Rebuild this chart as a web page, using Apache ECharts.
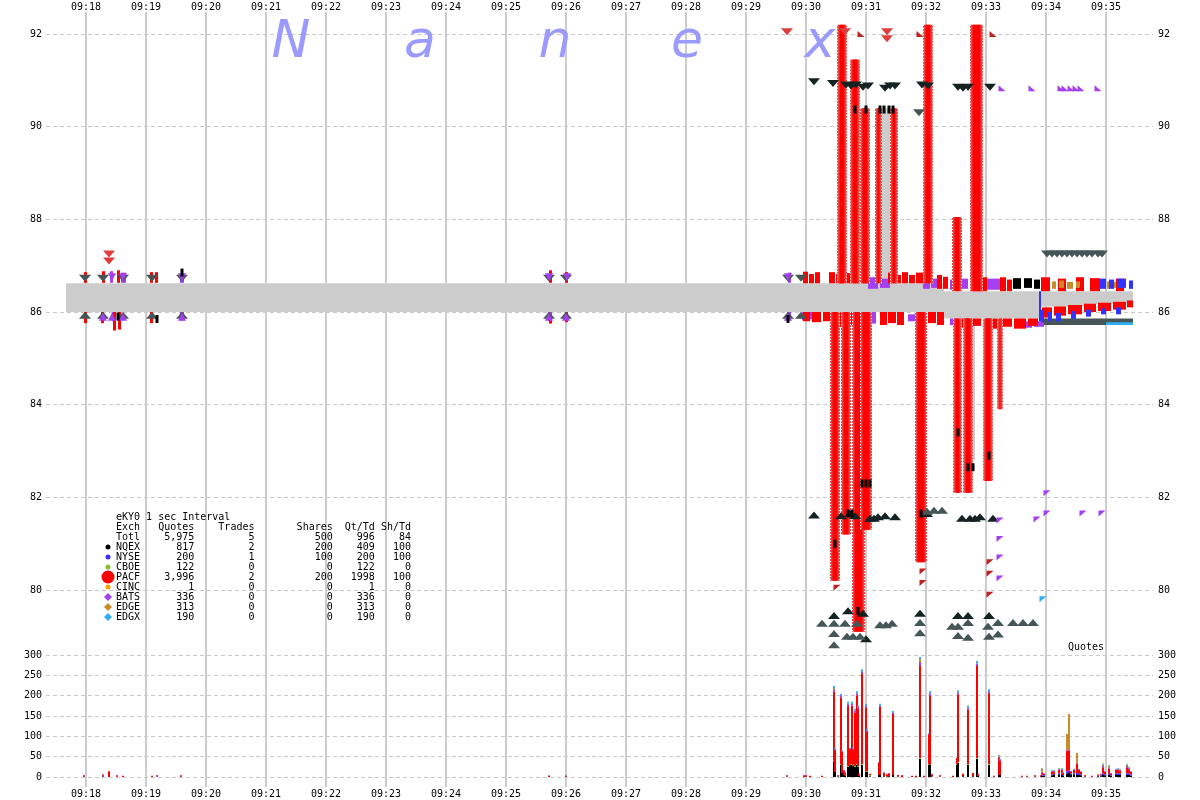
<!DOCTYPE html>
<html><head><meta charset="utf-8">
<script src="https://cdn.jsdelivr.net/npm/echarts@6/dist/echarts.min.js"></script>
<style>html,body{margin:0;padding:0;background:#fff}#c{width:1200px;height:800px}</style>
</head><body><div id="c"></div>
<script>
// time unit: seconds after 09:18:00
const xMin = -40, xMax = 1067;
const minuteTicks = [0,60,120,180,240,300,360,420,480,540,600,660,720,780,840,900,960,1020];
const minuteLabels = ['09:18','09:19','09:20','09:21','09:22','09:23','09:24','09:25','09:26','09:27','09:28','09:29','09:30','09:31','09:32','09:33','09:34','09:35'];
const priceMin = 80, priceMax = 92, priceStep = 2;
const volMin = 0, volMax = 300, volStep = 50;

// NBBO gray band [t0, t1, bid, ask]
const nbboBand = [[-20,858,86.0,86.62],[858,954,85.86,86.45],[954,1000,86.12,86.45],[1000,1047,86.18,86.45]];
const nbboSpikes = [[749,754,80.5,86.0],[756,759,86.62,90.6],[767,772,81.6,86.0],[771,774,86.62,88.0],[792,806,86.62,90.4],[882,889,82.8,85.86],[901,906,82.4,85.86]];

// PACF quote columns [t0, t1, lo, hi]
const pacfColumns = [
  [744,754,80.2,86.0],[755,765,81.2,86.0],[766,779,79.1,86.0],[774,786,81.3,86.0],[829,841,80.6,86.0],
  [867,876,82.1,85.86],[877,887,82.1,85.86],[897,907,82.35,85.86],[911,917,83.9,85.86],
  [751,761,86.62,92.2],[764,774,86.62,91.45],[774,784,86.62,90.4],[789,796,86.62,90.4],[804,812,86.62,90.4],
  [837,847,86.62,92.2],[866,876,86.45,88.05],[884,897,86.45,92.2]
];

// quote strips near the band edges [t0, t1, lo, hi]
const pacfStrips = [
  [-2,1,86.63,86.86],[-2,1,85.76,86.0],[16,19,86.63,86.88],[15,18,85.76,86.0],[31,34,86.63,86.9],[27,30,85.6,86.0],[32,35,85.62,86.0],
  [64,67,86.63,86.86],[69,72,86.63,86.86],[64,67,85.76,86.0],[463,466,86.63,86.9],[463,466,85.75,85.88],[479,482,86.63,86.86],[479,482,85.78,86.0],
  [717,722,86.62,86.87],[723,728,86.62,86.82],[729,734,86.62,86.86],[743,749,86.62,86.86],[750,757,86.62,86.82],
  [759,766,86.62,86.84],[767,774,86.62,86.8],[775,782,86.62,86.85],[802,808,86.62,86.85],[809,815,86.62,86.8],[816,822,86.62,86.86],
  [823,829,86.62,86.8],[830,837,86.62,86.85],[851,856,86.5,86.8],[857,862,86.5,86.76],
  [894,901,86.45,86.75],[914,920,86.45,86.75],[921,926,86.45,86.7],[955,964,86.45,86.75],[972,980,86.45,86.72],[990,998,86.45,86.75],[1004,1014,86.45,86.73],[1030,1038,86.45,86.72],
  [717,724,85.8,86.0],[726,735,85.78,86.0],[737,744,85.8,86.0],[752,760,85.68,86.0],[761,770,85.72,86.0],[771,778,85.68,86.0],[779,785,85.75,86.0],
  [794,801,85.72,86.0],[802,810,85.76,86.0],[811,818,85.72,86.0],[834,841,85.72,86.0],[842,850,85.76,86.0],[851,858,85.72,86.0],
  [874,884,85.66,85.86],[885,895,85.7,85.86],[900,912,85.64,85.86],[914,926,85.68,85.86],[928,940,85.64,85.86],[942,952,85.7,85.86],
  [956,966,85.88,86.1],[968,980,85.92,86.12],[982,996,85.95,86.15],[998,1010,86.0,86.18],[1012,1025,86.02,86.2],[1027,1040,86.05,86.22],[1041,1047,86.1,86.25]
];
const batsStrips = [
  [24,27,86.63,86.88],[26,30,85.8,86.0],[35,40,86.63,86.85],[94,98,86.63,86.82],[94,98,85.82,86.0],[462,466,85.8,86.0],[702,705,86.63,86.85],[701,705,85.82,86.0],
  [782,792,86.5,86.75],[794,804,86.52,86.72],[837,844,86.5,86.75],[845,851,86.52,86.72],[864,872,86.48,86.7],[874,882,86.5,86.72],[885,894,86.48,86.7],[901,914,86.48,86.72],
  [716,721,85.82,86.0],[724,730,85.84,86.0],[782,790,85.75,86.0],[822,834,85.8,85.95],[864,872,85.72,85.86],[875,881,85.74,85.86],[935,946,85.66,85.8],[948,958,85.68,85.8]
];
const nqexStrips = [[927,935,86.5,86.73],[938,946,86.52,86.73],[948,954,86.5,86.7]];
const edgeStrips = [[966,970,86.5,86.66],[973,978,86.52,86.68],[981,987,86.5,86.65],[990,994,86.52,86.66],[1021,1024,86.5,86.66],[1027,1030,86.52,86.65]];
const nyseStrips = [[1014,1020,86.5,86.72],[1023,1028,86.5,86.7],[1032,1040,86.52,86.72],[1043,1047,86.5,86.68],
  [955,958,85.78,86.05],[962,966,85.8,86.0],[970,975,85.8,85.98],[985,990,85.85,86.02],[1000,1005,85.9,86.05],[1015,1020,85.95,86.08],[1030,1035,85.95,86.1],[953,955,85.8,86.45]];
const darkStrips = [[956,1047,85.72,85.86]];
const edgxStrips = [[1020,1047,85.72,85.78]];

// triangles [t, price]
const darkAsk = [[728,90.97],[747,90.93],[760,90.9],[765,90.88],[770,90.9],[777,90.85],[782,90.88],[799,90.83],[804,90.88],[809,90.88],[836,90.9],[842,90.88],[872,90.85],[877,90.83],[882,90.85],[904,90.85]];
const grayAsk = [[833,90.3],[961,87.25],[966,87.25],[971,87.25],[976,87.25],[981,87.25],[986,87.25],[991,87.25],[996,87.25],[1001,87.25],[1006,87.25],[1012,87.25],[1016,87.25],
  [-1,86.73],[17,86.73],[37,86.73],[66,86.73],[96,86.73],[463,86.73],[480,86.73],[702,86.73],[715,86.73]];
const darkBid = [[728,81.62],[755,81.6],[764,81.65],[769,81.6],[784,81.55],[788,81.55],[792,81.58],[799,81.6],[809,81.58],[841,81.65],[876,81.55],[884,81.55],[889,81.55],[894,81.58],[907,81.55],
  [748,79.45],[762,79.55],[777,79.5],[834,79.5],[872,79.45],[882,79.45],[903,79.45],[780,78.95]];
const grayBid = [[736,79.28],[748,79.28],[759,79.28],[771,79.28],[794,79.25],[800,79.25],[806,79.28],[834,79.3],[866,79.22],[872,79.22],[882,79.3],[902,79.22],[912,79.3],[927,79.3],[937,79.3],[947,79.3],
  [748,79.06],[761,79.0],[767,79.0],[774,79.0],[834,79.08],[872,79.02],[882,78.98],[903,79.0],[912,79.05],[748,78.82],
  [841,81.7],[848,81.72],[856,81.72],
  [-1,85.93],[17,85.93],[37,85.93],[66,85.93],[96,85.93],[463,85.93],[480,85.93],[702,85.93],[715,85.93]];
const redAsk = [[701,92.05],[759,92.05],[801,92.05],[801,91.9],[23,87.25],[23,87.1]];
const darkRedTop = [[775,92.0],[834,92.0],[907,92.0]];
const darkRedLow = [[751,80.05],[837,80.4],[837,80.15],[904,80.6],[904,80.35],[904,79.9]];
const purpleTop = [[916,90.83],[946,90.83],[975,90.83],[979,90.83],[985,90.83],[990,90.83],[995,90.83],[1012,90.83]];
const purpleLow = [[914,81.5],[951,81.52],[961,81.65],[961,82.09],[997,81.65],[1016,81.65],[914,81.1],[914,80.7],[914,80.25]];
const cyanLow = [[957,79.8]];
const purpleAsk = [[26,86.75],[37,86.75],[96,86.75],[463,86.75],[481,86.75],[702,86.75]];
const purpleBid = [[17,85.9],[26,85.9],[37,85.9],[96,85.9],[463,85.9],[480,85.9],[702,85.9]];
const nqexMarks = [[769,90.37],[780,90.37],[794,90.37],[798,90.37],[803,90.37],[807,90.37],
  [749,81.0],[762,81.65],[766,81.65],[776,82.3],[780,82.3],[784,82.3],[835,81.65],[872,83.4],[882,82.65],[887,82.65],[903,82.9],[772,79.55],
  [32,85.9],[71,85.85],[96,86.85],[702,85.85]];

// quotes per second, stacked by exchange
const volT =    [-2,17,23,31,37,66,71,95,463,480,701,718,720,724,736,748,749,752,755,756,758,759,762,764,766,767,769,771,772,773,776,780,781,784,793,794,798,801,803,807,812,816,826,830,834,838,843,844,846,854,867,871,872,877,882,887,891,892,903,908,913,914,936,941,949,955,956,958,966,968,973,976,977,981,983,985,988,991,993,995,999,1006,1012,1015,1017,1019,1023,1025,1030,1032,1034,1041,1043,1045];
const volNQEX = [1,1,0,1,0,1,0,1,0,1,1,0,1,0,0,38,12,1,30,10,5,3,25,30,30,28,25,30,25,3,30,12,12,2,5,5,2,1,2,5,1,0,0,0,45,0,30,30,1,1,0,30,35,2,30,2,45,3,30,1,5,5,1,1,1,1,3,3,4,5,5,5,3,8,10,5,5,5,5,4,1,1,2,2,5,4,5,3,5,5,5,5,5,3];
const volNYSE = [0,2,0,0,0,0,2,0,0,0,0,0,0,0,0,0,0,0,0,0,0,0,0,0,0,0,0,0,0,0,0,0,0,0,0,0,0,0,0,0,0,0,0,0,0,0,0,0,0,0,0,0,0,0,0,0,0,0,0,0,0,0,0,0,0,0,3,2,3,3,4,4,2,6,6,3,4,5,4,3,1,0,1,2,4,3,4,2,4,4,3,4,4,3];
const volCBOE = [0,0,0,0,0,0,0,0,0,0,0,0,0,0,0,2,0,0,2,0,0,0,2,1,2,2,2,2,2,0,2,2,2,3,0,0,0,0,0,0,0,0,0,0,2,0,2,0,0,0,0,2,2,0,2,0,2,0,2,0,0,0,0,0,0,0,0,0,0,0,0,0,0,0,0,0,0,0,0,0,0,0,0,0,0,0,0,0,0,0,0,0,0,0];
const volPACF = [3,2,14,3,3,2,2,3,3,2,3,4,3,3,3,170,55,3,164,52,10,8,148,38,143,38,131,169,140,5,223,156,98,3,30,167,8,6,7,150,4,4,3,3,228,3,73,170,6,3,3,15,166,6,134,8,226,5,174,2,42,35,2,2,3,3,5,3,6,6,8,8,5,50,50,6,8,23,8,6,2,2,3,3,15,6,12,4,8,8,8,15,10,6];
const volBATS = [1,2,1,1,0,0,1,0,1,1,1,1,1,0,0,6,2,0,5,2,2,1,5,2,5,2,5,5,5,0,5,5,3,0,2,4,1,1,1,4,0,0,0,0,8,0,2,6,1,0,0,0,5,0,5,0,6,0,5,0,2,2,0,0,0,0,2,1,2,2,2,2,1,2,2,1,2,2,2,1,0,0,0,1,3,2,2,1,2,2,2,3,3,2];
const volEDGE = [0,0,0,0,0,0,0,0,0,0,0,0,0,0,0,3,0,0,0,0,0,0,0,0,0,0,0,0,0,0,0,0,0,0,0,0,0,0,0,0,0,0,0,0,7,0,0,0,0,0,0,0,0,0,0,0,0,0,0,0,4,0,0,0,0,0,8,0,1,0,2,2,0,40,87,0,1,24,0,1,0,0,0,0,4,0,4,0,0,2,1,3,2,0];
const volEDGX = [0,0,0,0,0,0,0,0,0,0,0,0,0,0,0,5,2,0,3,2,0,0,5,1,5,2,5,5,4,0,5,5,3,0,0,4,1,0,0,3,0,0,0,0,5,0,1,5,0,0,0,0,5,0,5,0,6,0,5,0,2,3,0,0,0,0,1,1,1,1,1,1,1,0,0,0,0,0,1,0,0,0,0,0,2,0,2,0,1,1,1,2,1,1];

// summary table
const tableExch   = ['Totl','NQEX','NYSE','CBOE','PACF','CINC','BATS','EDGE','EDGX'];
const tableQuotes = ['5,975','817','200','122','3,996','1','336','313','190'];
const tableTrades = [5,2,1,0,2,0,0,0,0];
const tableShares = [500,200,100,0,200,0,0,0,0];
const tableQtTd   = [996,409,200,122,1998,1,336,313,190];
const tableShTd   = [84,100,100,0,100,0,0,0,0];

const C = {NQEX:'#000000',NYSE:'#3333ff',CBOE:'#88c030',PACF:'#ff0000',CINC:'#ffa000',BATS:'#a540f0',EDGE:'#c88c28',EDGX:'#30aff0',dark:'#142222',gray:'#465656',band:'#cccccc',red:'#e03c3c',darkRed:'#c02222'};
const MONO = 'DejaVu Sans Mono';
const volColors = [C.NQEX, C.NYSE, C.CBOE, C.PACF, C.BATS, C.EDGE, C.EDGX];

function rectSeries(name, data, color){
  return {type:'custom', name, data, xAxisIndex:0, yAxisIndex:0, clip:false, silent:true,
    renderItem(params, api){
      const p0 = api.coord([api.value(0), api.value(3)]);
      const p1 = api.coord([api.value(1), api.value(2)]);
      return {type:'rect', shape:{x:p0[0], y:p0[1], width:Math.max(1,p1[0]-p0[0]), height:Math.max(1,p1[1]-p0[1])}, style:{fill:color}};
    }};
}
function columnSeries(data){
  return {type:'custom', name:'PACF', data, clip:false, silent:true,
    renderItem(params, api){
      const p0 = api.coord([api.value(0), api.value(3)]);
      const p1 = api.coord([api.value(1), api.value(2)]);
      const w = Math.max(1,p1[0]-p0[0]), h = p1[1]-p0[1];
      const x0 = Math.round(p0[0]) + 0.5, x1 = Math.round(p0[0] + w) - 0.5;
      return {type:'group', children:[
        {type:'rect', shape:{x:p0[0], y:p0[1], width:w, height:h}, style:{fill:'#e84545'}},
        {type:'rect', shape:{x:p0[0]+2.5, y:p0[1], width:Math.max(1,w-5), height:h}, style:{fill:'#ff0000'}},
        {type:'line', shape:{x1:x0, y1:p0[1], x2:x0, y2:p0[1]+h}, style:{stroke:'#ffffff', lineWidth:1, lineDash:[1,2]}},
        {type:'line', shape:{x1:x1, y1:p0[1], x2:x1, y2:p0[1]+h}, style:{stroke:'#ffffff', lineWidth:1, lineDash:[1,2]}}
      ]};
    }};
}
function triSeries(name, data, color, symbol, size, rotate){
  return {type:'scatter', name, data, symbol, symbolSize:size, symbolRotate:rotate||0, clip:false, silent:true,
    itemStyle:{color, opacity:1}, xAxisIndex:0, yAxisIndex:0};
}
const TRI = 'triangle';
const CORNER_BL = 'path://M0,0L0,10L10,10Z';
const CORNER_TL = 'path://M0,0L10,0L0,10Z';

const tickLabel = v => { const i = minuteTicks.indexOf(v); return i >= 0 ? minuteLabels[i] : ''; };
const axisFont = {fontFamily:MONO, fontSize:10, color:'#000'};
const dashed = {show:true, lineStyle:{color:'#c8c8c8', type:[4,3], width:1}};

function hiddenX(gi){ return {type:'value', gridIndex:gi, min:xMin, max:xMax, show:false, splitLine:{show:false}}; }
function frameX(pos, split, margin){
  return {type:'value', gridIndex:2, min:xMin, max:xMax, position:pos,
    axisLine:{show:false}, axisTick:{show:false, customValues:minuteTicks},
    axisLabel:Object.assign({customValues:minuteTicks, formatter:tickLabel, margin}, axisFont),
    splitLine:{show:split, lineStyle:{color:'#cccccc', width:2}}};
}
function yAx(gi, min, max, step, pos, split){
  return {type:'value', gridIndex:gi, min, max, interval:step, position:pos,
    axisLine:{show:false}, axisTick:{show:false},
    axisLabel:Object.assign({margin: pos==='left'?4:5}, axisFont),
    splitLine: split ? dashed : {show:false}};
}

const volRows = volT.map((t,i)=>[t, volNQEX[i], volNYSE[i], volCBOE[i], volPACF[i], volBATS[i], volEDGE[i], volEDGX[i]]);
const volSeries = {type:'custom', name:'Quotes', data:volRows, xAxisIndex:1, yAxisIndex:2, silent:true,
  encode:{x:0, y:4},
  renderItem(params, api){
    const t = api.value(0); let acc = 0; const children = [];
    for (let k = 0; k < 7; k++){
      const v = api.value(k+1); if (!v) continue;
      const top = api.coord([t, acc+v]); const bot = api.coord([t, acc]);
      children.push({type:'rect', shape:{x:top[0]-1, y:top[1], width:2, height:bot[1]-top[1]}, style:{fill:volColors[k]}});
      acc += v;
    }
    return {type:'group', children};
  }};

function padL(s,n){s=String(s);while(s.length<n)s=' '+s;return s;}
function padR(s,n){s=String(s);while(s.length<n)s+=' ';return s;}
const tableLines = ['eKY0 1 sec Interval',
  padR('Exch',4)+padL('Quotes',9)+padL('Trades',10)+padL('Shares',13)+padL('Qt/Td',7)+padL('Sh/Td',6)];
tableExch.forEach((e,i)=>tableLines.push(padR(e,4)+padL(tableQuotes[i],9)+padL(tableTrades[i],10)+padL(tableShares[i],13)+padL(tableQtTd[i],7)+padL(tableShTd[i],6)));

const graphics = [];
tableLines.forEach((ln,i)=>graphics.push({type:'text', x:116, y:517+10*i, z:50, silent:true,
  style:{text:ln, font:'10px "DejaVu Sans Mono"', fill:'#000', align:'left', verticalAlign:'middle'}}));
const bulletKinds = [['NQEX','c',2.5],['NYSE','c',2.5],['CBOE','c',2.5],['PACF','c',6.5],['CINC','c',2.5],['BATS','d',4],['EDGE','d',4],['EDGX','d',4]];
bulletKinds.forEach(([n,k,r],i)=>{
  const cy = 547+10*i, cx = 108;
  if (k==='c') graphics.push({type:'circle', z:50, silent:true, shape:{cx, cy, r}, style:{fill:C[n]}});
  else graphics.push({type:'polygon', z:50, silent:true, shape:{points:[[cx,cy-r],[cx+r,cy],[cx,cy+r],[cx-r,cy]]}, style:{fill:C[n]}});
});
[['N',291],['a',420],['n',555],['e',687],['x',820]].forEach(([ch,x])=>graphics.push({type:'text', x, y:43, z:1, silent:true,
  style:{text:ch, font:'italic 52px "DejaVu Sans"', fill:'#9a9aff', align:'center', verticalAlign:'middle'}}));
graphics.push({type:'text', x:1068, y:647, z:50, silent:true, style:{text:'Quotes', font:'10px "DejaVu Sans Mono"', fill:'#000', align:'left', verticalAlign:'middle'}});

const chart = echarts.init(document.getElementById('c'), null, {renderer:'canvas'});
chart.setOption({
  animation:false,
  backgroundColor:'#ffffff',
  grid:[
    {left:46, right:47, top:34, height:556},
    {left:46, right:47, top:655, height:122},
    {left:46, right:47, top:12, height:775}
  ],
  xAxis:[hiddenX(0), hiddenX(1), frameX('top', true, 0), frameX('bottom', false, 2)],
  yAxis:[
    yAx(0, priceMin, priceMax, priceStep, 'left', true),
    yAx(0, priceMin, priceMax, priceStep, 'right', false),
    yAx(1, volMin, volMax, volStep, 'left', true),
    yAx(1, volMin, volMax, volStep, 'right', false),
    {type:'value', gridIndex:2, min:0, max:1, show:false, splitLine:{show:false}}
  ],
  graphic: graphics,
  series:[
    rectSeries('NBBO', nbboBand, C.band),
    rectSeries('NBBO spikes', nbboSpikes, C.band),
    rectSeries('dark bids', darkStrips, C.gray),
    rectSeries('EDGX', edgxStrips, C.EDGX),
    rectSeries('BATS', batsStrips, C.BATS),
    rectSeries('PACF strips', pacfStrips, C.PACF),
    rectSeries('NQEX', nqexStrips, C.NQEX),
    rectSeries('EDGE', edgeStrips, C.EDGE),
    rectSeries('NYSE', nyseStrips, C.NYSE),
    columnSeries(pacfColumns),
    triSeries('darkAsk', darkAsk, C.dark, TRI, [12,7], 180),
    triSeries('grayAsk', grayAsk, C.gray, TRI, [12,7], 180),
    triSeries('darkBid', darkBid, C.dark, TRI, [12,7], 0),
    triSeries('grayBid', grayBid, C.gray, TRI, [12,7], 0),
    triSeries('purpleAsk', purpleAsk, C.BATS, TRI, [8,8], 180),
    triSeries('purpleBid', purpleBid, C.BATS, TRI, [8,8], 0),
    triSeries('redAsk', redAsk, C.red, TRI, [12,7], 180),
    triSeries('darkRedTop', darkRedTop, C.darkRed, CORNER_BL, [7,6]),
    triSeries('darkRedLow', darkRedLow, C.darkRed, CORNER_TL, [7,6]),
    triSeries('purpleTop', purpleTop, C.BATS, CORNER_BL, [7,6]),
    triSeries('purpleLow', purpleLow, C.BATS, CORNER_TL, [7,6]),
    triSeries('cyanLow', cyanLow, C.EDGX, CORNER_TL, [7,6]),
    triSeries('nqexMarks', nqexMarks, C.NQEX, 'rect', [3,8]),
    volSeries
  ]
});
</script></body></html>
